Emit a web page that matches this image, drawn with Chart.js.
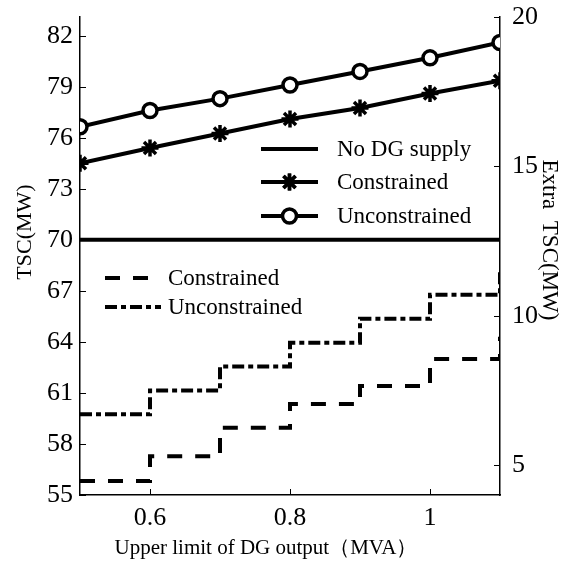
<!DOCTYPE html>
<html>
<head>
<meta charset="utf-8">
<script src="https://cdn.jsdelivr.net/npm/chart.js@4/dist/chart.umd.min.js"></script>
<style>
  html, body { margin: 0; padding: 0; background: #fff; }
  #wrap { width: 563px; height: 563px; }
</style>
</head>
<body>
<div id="wrap"><canvas id="tscChart" width="563" height="563"></canvas></div>
<script>
// x values: upper limit of DG output (MVA)
var dgLimits = [0.5, 0.6, 0.7, 0.8, 0.9, 1.0, 1.1];

// left axis, TSC (MW)
var noDgSupply = [70, 70, 70, 70, 70, 70, 70];
var tscConstrained = [74.5, 75.4, 76.25, 77.1, 77.75, 78.6, 79.35];
var tscUnconstrained = [76.65, 77.6, 78.3, 79.1, 79.9, 80.7, 81.6];

// right axis, extra TSC (MW), step curves
var extraConstrained = [4.47, 5.3, 6.25, 7.05, 7.65, 8.55, 9.3];
var extraUnconstrained = [6.7, 7.5, 8.3, 9.1, 9.9, 10.7, 11.5];

var leftTicks = [55, 58, 61, 64, 67, 70, 73, 76, 79, 82];
var rightTicks = [5, 10, 15, 20];
var xTicks = [0.6, 0.8, 1];

var serif = "'Liberation Serif', 'Times New Roman', serif";

function pts(ys) {
	var out = [];
	for (var i = 0; i < dgLimits.length; i++) {
		out.push({ x: dgLimits[i], y: ys[i] });
	}
	return out;
}

function fixTicks(list) {
	return function(scale) {
		scale.ticks = list.map(function(v) { return { value: v }; });
	};
}

function drawText(ctx, txt, x, y, size, rot) {
	ctx.save();
	ctx.translate(x, y);
	ctx.rotate(rot);
	ctx.font = size + 'px ' + serif;
	ctx.fillStyle = '#000';
	ctx.textAlign = 'center';
	ctx.textBaseline = 'middle';
	ctx.fillText(txt, 0, 0);
	ctx.restore();
}

//inward tick marks, axis titles and the two legend boxes
var decorPlugin = {
	id: 'decor',
	afterDraw: function(chart) {
		var ctx = chart.ctx;
		var a = chart.chartArea;
		var sx = chart.scales.x, sl = chart.scales.yL, sr = chart.scales.yR;
		ctx.save();
		ctx.strokeStyle = '#000';
		ctx.lineWidth = 1;
		ctx.beginPath();
		leftTicks.forEach(function(v) {
			var y = Math.round(sl.getPixelForValue(v)) + 0.5;
			ctx.moveTo(a.left, y); ctx.lineTo(a.left + 6, y);
		});
		rightTicks.forEach(function(v) {
			var y = Math.round(sr.getPixelForValue(v)) + 0.5;
			ctx.moveTo(a.right, y); ctx.lineTo(a.right - 6, y);
		});
		xTicks.forEach(function(v) {
			var x = Math.round(sx.getPixelForValue(v)) + 0.5;
			ctx.moveTo(x, a.bottom); ctx.lineTo(x, a.bottom - 6);
		});
		ctx.stroke();

		// axis titles
		drawText(ctx, 'Upper limit of DG output（MVA）', 266, 548, 21, 0);
		drawText(ctx, 'TSC(MW)', 25, 232, 22, -Math.PI / 2);
		drawText(ctx, 'Extra  TSC(MW)', 549, 240, 23, Math.PI / 2);

		//legends
		var legends = [
			{ x0: 261, x1: 318, tx: 337, rows: [[0, 149], [1, 182], [2, 216]] },
			{ x0: 105, x1: 161, tx: 168, rows: [[3, 278], [4, 307]] }
		];
		ctx.font = '23px ' + serif;
		ctx.textBaseline = 'middle';
		ctx.textAlign = 'left';
		legends.forEach(function(lg) {
			lg.rows.forEach(function(r) {
				var ds = chart.data.datasets[r[0]];
				var y = r[1];
				var cx = (lg.x0 + lg.x1) / 2;
				ctx.save();
				ctx.lineWidth = ds.borderWidth;
				ctx.setLineDash(ds.borderDash || []);
				ctx.beginPath();
				var x1 = lg.x1;
				if (r[0] === 3) x1 = 150;
				ctx.moveTo(lg.x0, y); ctx.lineTo(x1, y);
				ctx.stroke();
				ctx.restore();
				if (ds.pointRadius > 0) {
					ctx.fillStyle = '#fff';
					ctx.strokeStyle = '#000';
					ctx.lineWidth = ds.pointBorderWidth;
					if (ds.pointStyle === 'circle') {
						ctx.beginPath();
						ctx.arc(cx, y, ds.pointRadius, 0, Math.PI * 2);
						ctx.fill(); ctx.stroke();
					} else {
						Chart.helpers.drawPoint(ctx, { pointStyle: 'star', radius: ds.pointRadius, rotation: 0, borderWidth: ds.pointBorderWidth }, cx, y);
						ctx.stroke();
					}
				}
				ctx.fillStyle = '#000';
				ctx.fillText(ds.label, lg.tx, y + 1);
			});
		});
		ctx.restore();
	}
};

function fitY(w) {
	return function(s) { s.width = w; s.paddingTop = 0; s.paddingBottom = 0; };
}

var ctx = document.getElementById('tscChart');
var tscChart = new Chart(ctx, {
	type: 'line',
	data: {
		datasets: [
			{ label: 'No DG supply', data: pts(noDgSupply), yAxisID: 'yL',
			  borderColor: '#000', borderWidth: 4, pointRadius: 0 },
			{ label: 'Constrained', data: pts(tscConstrained), yAxisID: 'yL',
			  borderColor: '#000', borderWidth: 4, pointStyle: 'star', pointRadius: 8.5,
			  pointBorderWidth: 3.5, pointBorderColor: '#000', pointBackgroundColor: '#000' },
			{ label: 'Unconstrained', data: pts(tscUnconstrained), yAxisID: 'yL',
			  borderColor: '#000', borderWidth: 4, pointStyle: 'circle', pointRadius: 7,
			  pointBorderWidth: 3.5, pointBorderColor: '#000', pointBackgroundColor: '#fff' },
			{ label: 'Constrained', data: pts(extraConstrained), yAxisID: 'yR', stepped: true,
			  borderColor: '#000', borderWidth: 4, borderDash: [15, 13], pointRadius: 0 },
			{ label: 'Unconstrained', data: pts(extraUnconstrained), yAxisID: 'yR', stepped: true,
			  borderColor: '#000', borderWidth: 4, borderDash: [12, 4, 5, 4], pointRadius: 0 }
		]
	},
	options: {
		responsive: false,
		animation: false,
		layout: { padding: { top: 17, left: 0, right: 0, bottom: 0 } },
		plugins: { legend: { display: false }, tooltip: { enabled: false } },
		scales: {
			x: {
				type: 'linear', min: 0.5, max: 1.1,
				afterBuildTicks: fixTicks(xTicks),
				afterFit: function(s) { s.height = 68; s.paddingLeft = 0; s.paddingRight = 0; },
				grid: { drawOnChartArea: false, drawTicks: false },
				border: { color: '#000', width: 1.5 },
				ticks: { color: '#000', padding: 8, font: { family: serif, size: 26 },
					callback: function(v) { return String(v); } }
			},
			yL: {
				type: 'linear', position: 'left', min: 55, max: 83.1,
				afterBuildTicks: fixTicks(leftTicks),
				afterFit: fitY(80),
				grid: { drawOnChartArea: false, drawTicks: false },
				border: { color: '#000', width: 1.5 },
				ticks: { color: '#000', padding: 7, font: { family: serif, size: 26 } }
			},
			yR: {
				type: 'linear', position: 'right', min: 4, max: 20,
				afterBuildTicks: fixTicks(rightTicks),
				afterFit: fitY(63),
				grid: { drawOnChartArea: false, drawTicks: false },
				border: { color: '#000', width: 1.5 },
				ticks: { color: '#000', padding: 12, font: { family: serif, size: 26 } }
			}
		}
	},
	plugins: [decorPlugin]
});
</script>
</body>
</html>
